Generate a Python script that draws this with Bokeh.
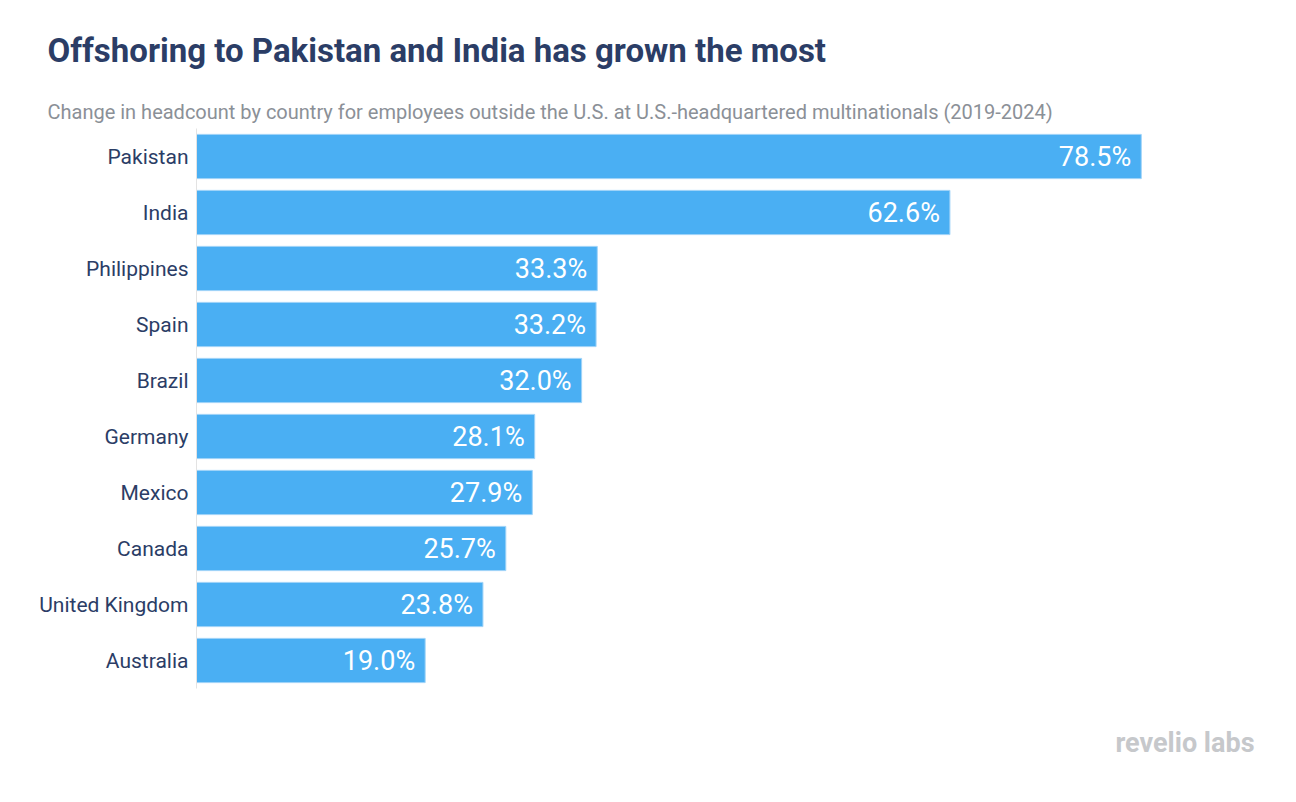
from bokeh.plotting import figure
from bokeh.models import Title, FactorRange, Range1d
from bokeh.core.properties import value
from bokeh.embed import file_html
from bokeh.resources import INLINE

countries = ["Pakistan", "India", "Philippines", "Spain", "Brazil", "Germany",
             "Mexico", "Canada", "United Kingdom", "Australia"]
growth = [78.5, 62.6, 33.3, 33.2, 32.0, 28.1, 27.9, 25.7, 23.8, 19.0]
labels = [f"{v:.1f}%" for v in growth]

title = "Offshoring to Pakistan and India has grown the most"
subtitle = ("Change in headcount by country for employees outside the U.S. "
            "at U.S.-headquartered multinationals (2019-2024)")

NAVY = "#2b3d66"
BAR = "#4aaff3"

p = figure(width=1288, height=794, output_backend="svg", toolbar_location=None,
           y_range=FactorRange(*countries[::-1], range_padding=0),
           x_range=Range1d(0, 85),
           frame_width=1023, frame_height=560,
           min_border_left=196, min_border_right=69,
           min_border_top=128, min_border_bottom=106)
p.outline_line_color = None
p.background_fill_color = "white"
p.border_fill_color = "white"
p.grid.visible = False
p.xaxis.visible = False

p.hbar(y=countries, right=growth, left=0, height=0.79,
       fill_color=BAR, line_color="#9fd3f8", line_width=1)
p.text(x=growth, y=countries, text=labels, x_offset=-10,
       text_align="right", text_baseline="middle", text_color="white",
       text_font=value("Roboto"), text_font_size="27px")

ax = p.yaxis[0]
ax.axis_line_color = "#e3e3e3"
ax.major_tick_line_color = None
ax.minor_tick_line_color = None
ax.major_label_standoff = 2
ax.major_label_text_font = "Roboto"
ax.major_label_text_font_size = "21px"
ax.major_label_text_color = NAVY

p.add_layout(Title(text=subtitle, text_font="Roboto", text_font_style="normal",
                   text_font_size="20px", text_color="#8b9097",
                   align="left", offset=-149, standoff=10), "above")
p.add_layout(Title(text=title, text_font="Roboto", text_font_style="bold",
                   text_font_size="33px", text_color=NAVY,
                   align="left", offset=-149, standoff=46), "above")
p.add_layout(Title(text="revelio labs", text_font="Roboto", text_font_style="bold",
                   text_font_size="27px", text_color="#c6c8cb",
                   align="right", offset=-35, standoff=72), "below")

open("out.html", "w").write(file_html(p, INLINE))
